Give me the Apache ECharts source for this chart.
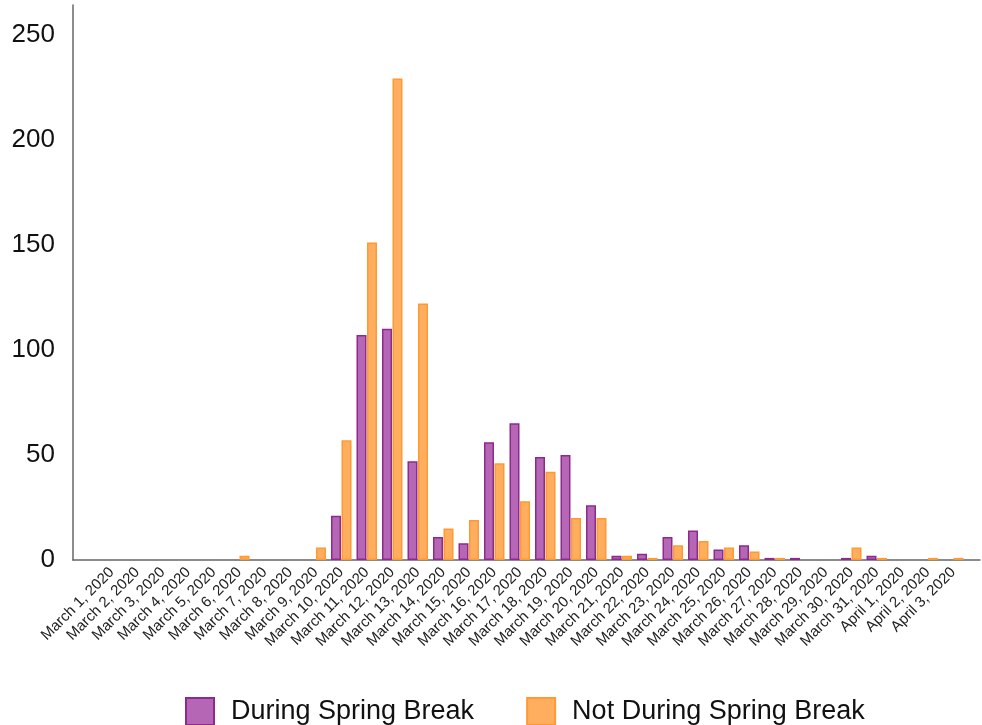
<!DOCTYPE html>
<html>
<head>
<meta charset="utf-8">
<script src="https://cdn.jsdelivr.net/npm/echarts@6/dist/echarts.min.js"></script>
<style>
  html, body { margin: 0; padding: 0; background: #fff; }
</style>
</head>
<body>
<div id="bar" style="width:982px;height:725px"></div>
<script>
var categories = [
  'March 1, 2020', 'March 2, 2020', 'March 3, 2020', 'March 4, 2020', 'March 5, 2020',
  'March 6, 2020', 'March 7, 2020', 'March 8, 2020', 'March 9, 2020', 'March 10, 2020',
  'March 11, 2020', 'March 12, 2020', 'March 13, 2020', 'March 14, 2020', 'March 15, 2020',
  'March 16, 2020', 'March 17, 2020', 'March 18, 2020', 'March 19, 2020', 'March 20, 2020',
  'March 21, 2020', 'March 22, 2020', 'March 23, 2020', 'March 24, 2020', 'March 25, 2020',
  'March 26, 2020', 'March 27, 2020', 'March 28, 2020', 'March 29, 2020', 'March 30, 2020',
  'March 31, 2020', 'April 1, 2020', 'April 2, 2020', 'April 3, 2020'
]
var duringBreak = [
  0, 0, 0, 0, 0, 0, 0, 0, 0, 21,
  107, 110, 47, 11, 8, 56, 65, 49, 50, 26,
  2, 3, 11, 14, 5, 7, 1, 1, 0, 1,
  2, 0, 0, 0
]
var notDuringBreak = [
  0, 0, 0, 0, 0, 2, 0, 0, 6, 57,
  151, 229, 122, 15, 19, 46, 28, 42, 20, 20,
  2, 1, 7, 9, 6, 4, 1, 0, 0, 6,
  1, 0, 1, 1
]
var yTicks = [0, 50, 100, 150, 200, 250]
var yMax = 264

// zero counts draw nothing (no border sliver on the baseline)
function hideZeros(arr) {
  return arr.map(function(v) { return v === 0 ? '-' : v })
}

var myChart = echarts.init(document.getElementById('bar'))
var font = '"Liberation Sans", Arial, Helvetica, sans-serif'

myChart.setOption({
  backgroundColor: '#ffffff',
  animation: false,
  textStyle: { fontFamily: font },
  legend: {
    show: true,
    data: ['During Spring Break', 'Not During Spring Break'],
    left: 180,
    top: 692,
    itemWidth: 28,
    itemHeight: 27,
    itemGap: 52,
    icon: 'rect',
    textStyle: {
      fontSize: 27,
      color: '#111',
      fontFamily: font,
      padding: [0, 0, 0, 12]
    }
  },
  grid: [
    // frame grid: only carries the axis lines and y labels
    { left: 73, right: 2, top: 5, bottom: 165 },
    // bars grid: categories sit inset from the axis lines
    { left: 99, right: 16, top: 5, bottom: 165 }
  ],
  xAxis: [
    {
      gridIndex: 0,
      type: 'value',
      min: 0,
      max: 1,
      axisLine: { show: true, lineStyle: { color: '#666', width: 1.5 } },
      axisTick: { show: false },
      axisLabel: { show: false },
      splitLine: { show: false }
    },
    {
      gridIndex: 1,
      type: 'category',
      data: categories,
      axisLine: { show: false },
      axisTick: { show: false },
      axisLabel: {
        interval: 0,
        rotate: 45,
        margin: 10,
        fontSize: 15,
        color: '#222',
        fontFamily: font
      },
      splitLine: { show: false }
    }
  ],
  yAxis: [
    {
      gridIndex: 0,
      type: 'value',
      min: 0,
      max: yMax,
      interval: 50,
      axisLine: { show: true, lineStyle: { color: '#666', width: 1.5 } },
      axisTick: { show: false },
      axisLabel: {
        showMaxLabel: false,
        margin: 18,
        fontSize: 26,
        color: '#111',
        fontFamily: font,
        formatter: function(v) {
          return yTicks.indexOf(v) >= 0 ? String(v) : ''
        }
      },
      splitLine: { show: false }
    },
    {
      gridIndex: 1,
      type: 'value',
      min: 0,
      max: yMax,
      show: false,
      splitLine: { show: false }
    }
  ],
  series: [
    {
      name: 'During Spring Break',
      type: 'bar',
      xAxisIndex: 1,
      yAxisIndex: 1,
      data: hideZeros(duringBreak),
      barWidth: 10,
      barGap: '5%',
      itemStyle: {
        color: '#b566b5',
        borderColor: '#8e2a8e',
        borderWidth: 1.5
      }
    },
    {
      name: 'Not During Spring Break',
      type: 'bar',
      xAxisIndex: 1,
      yAxisIndex: 1,
      data: hideZeros(notDuringBreak),
      barWidth: 10,
      itemStyle: {
        color: '#ffae60',
        borderColor: '#ff9a33',
        borderWidth: 1.5
      }
    }
  ]
})
</script>
</body>
</html>
